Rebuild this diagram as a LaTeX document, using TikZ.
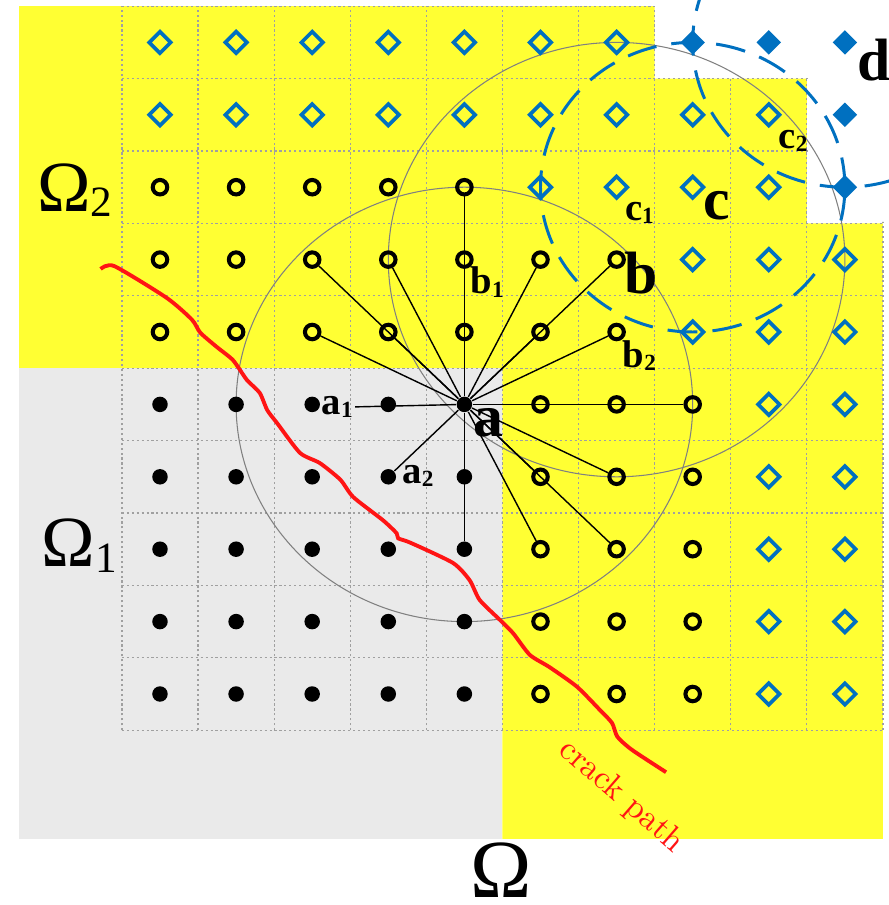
\documentclass[tikz,border=0pt]{standalone}
\usepackage{fontspec}
\usepackage{tikz}
\usetikzlibrary{calc,shapes.geometric}
\newfontfamily\tms{Liberation Serif}
\definecolor{domyellow}{RGB}{255,255,51}
\definecolor{domgray}{RGB}{234,234,234}
\definecolor{ptblue}{RGB}{0,112,192}
\definecolor{gridgray}{RGB}{160,160,160}
\definecolor{crackred}{RGB}{255,20,20}
\newcommand{\lsub}[1]{\raisebox{-0.08em}{\scalebox{0.6}{#1}}}

\begin{document}
\begin{tikzpicture}[
        x=0.761cm,
        y=0.724cm,
        dotpt/.style={
            circle,
            fill=black,
            inner sep=0pt,
            minimum size=0.155cm
        },
        ringpt/.style={
            circle,
            draw=black,
            line width=1.15pt,
            inner sep=0pt,
            minimum size=0.145cm
        },
        diapt/.style={
            diamond,
            draw=ptblue,
            line width=1.05pt,
            inner sep=0pt,
            minimum size=0.23cm
        },
        fdiapt/.style={
            diamond,
            fill=ptblue,
            inner sep=0pt,
            minimum size=0.25cm
        },
        gridln/.style={
            draw=gridgray,
            line width=0.35pt,
            dash pattern=on 0.6pt off 0.8pt
        },
        nbhd/.style={
            draw=black!50,
            line width=0.3pt
        },
        supp/.style={
            draw=ptblue,
            line width=0.85pt,
            dash pattern=on 8.5pt off 4.3pt
        },
        crack/.style={
            draw=crackred,
            line width=1.1pt
        },
        link/.style={
            draw=black,
            line width=0.4pt
        },
        lbl/.style={
            font=\tms\bfseries\fontsize{11pt}{12pt}\selectfont,
            inner sep=0.5pt
        },
        biglbl/.style={
            font=\tms\bfseries\fontsize{17pt}{18pt}\selectfont,
            inner sep=0.5pt
        },
        omlbl/.style={
            font=\tms\fontsize{20.5pt}{22pt}\selectfont,
            inner sep=0pt
        }
    ]

    \useasboundingbox (-1.6cm,-2.11cm) rectangle (7.29cm,6.94cm);

    % =========================
    % Domains
    % =========================
    \fill[domyellow] (-1.85,9.5) -- (6.5,9.5) -- (6.5,8.5) -- (8.5,8.5) -- (8.5,6.5)
        -- (9.5,6.5) -- (9.5,-2) -- (4.5,-2) -- (4.5,4.5) -- (-1.85,4.5) -- cycle;
    \fill[domgray] (-1.85,-2) rectangle (4.5,4.5);

    \begin{scope}
        \clip (-1.85,9.52) -- (6.52,9.52) -- (6.52,8.52) -- (8.52,8.52) -- (8.52,6.52)
            -- (9.52,6.52) -- (9.52,-2) -- (-1.85,-2) -- cycle;
        \foreach \k in {0,...,10} {
            \draw[gridln] ({\k-0.5},-0.5) -- ({\k-0.5},9.5);
            \draw[gridln] (-0.5,{\k-0.5}) -- (9.5,{\k-0.5});
        }
    \end{scope}

    % =========================
    % Supports
    % =========================
    \draw[nbhd] (4,4) circle [radius=3];
    \draw[nbhd] (6,6) circle [radius=3];

    \begin{scope}
        \clip (-1.6cm,-2.11cm) rectangle (7.29cm,6.94cm);
        \draw[supp] (7,7) circle [radius=2];
        \draw[supp] (9,9) circle [radius=2];
    \end{scope}

    % crack
    \draw[crack] plot[smooth, tension=0.4] coordinates {
        (-0.78,5.87) (-0.60,5.91) (0.09,5.47) (0.42,5.17) (0.53,4.99) (0.75,4.79)
        (0.96,4.61) (1.14,4.34) (1.31,4.16) (1.41,3.92) (1.54,3.74) (1.84,3.33)
        (2.10,3.19) (2.37,2.96) (2.54,2.72) (2.93,2.40) (3.11,2.22) (3.13,2.15)
        (3.29,2.09) (3.85,1.81) (4.07,1.57) (4.20,1.30) (4.47,1.02) (4.64,0.84)
        (4.86,0.54) (5.12,0.37) (5.48,0.10) (5.78,-0.22) (5.94,-0.40) (6.01,-0.59)
        (6.20,-0.77) (6.65,-1.08)};

    % =========================
    % Nodes
    % =========================
    \foreach \i in {0,...,4}
        \foreach \j in {0,...,4}
            \node[dotpt] (p-\i-\j) at (\i,\j) {};
    \foreach \i in {5,6,7}
        \foreach \j in {0,...,4}
            \node[ringpt] (p-\i-\j) at (\i,\j) {};
    \foreach \i in {0,...,6}
        \foreach \j in {5,6}
            \node[ringpt] (p-\i-\j) at (\i,\j) {};
    \foreach \i in {0,...,4}
        \node[ringpt] (p-\i-7) at (\i,7) {};

    \foreach \i in {8,9}
        \foreach \j in {0,...,4}
            \node[diapt] (p-\i-\j) at (\i,\j) {};
    \foreach \i in {7,8,9}
        \foreach \j in {5,6}
            \node[diapt] (p-\i-\j) at (\i,\j) {};
    \foreach \i in {5,...,8}
        \node[diapt] (p-\i-7) at (\i,7) {};
    \foreach \i in {0,...,8}
        \node[diapt] (p-\i-8) at (\i,8) {};
    \foreach \i in {0,...,6}
        \node[diapt] (p-\i-9) at (\i,9) {};
    \foreach \i/\j in {7/9,8/9,9/9,9/8,9/7}
        \node[fdiapt] (p-\i-\j) at (\i,\j) {};

    % labels
    \node[biglbl] (la) at ($(p-4-4)+(0.31,-0.26)$) {a};
    \node[biglbl] (lb) at ($(p-6-6)+(0.32,-0.19)$) {b};
    \node[biglbl] (lc) at ($(p-7-7)+(0.32,-0.26)$) {c};
    \node[biglbl] (ld) at ($(p-9-9)+(0.39,-0.25)$) {d};

    \node[lbl] (la1) at ($(p-2-4)+(0.33,-0.04)$) {a\lsub{1}};
    \node[lbl] (la2) at ($(p-3-3)+(0.39,0.01)$) {a\lsub{2}};
    \node[lbl] (lb1) at ($(p-4-6)+(0.30,-0.31)$) {b\lsub{1}};
    \node[lbl] (lb2) at ($(p-6-5)+(0.30,-0.32)$) {b\lsub{2}};
    \node[lbl] (lc1) at ($(p-6-7)+(0.30,-0.36)$) {c\lsub{1}};
    \node[lbl] (lc2) at ($(p-8-8)+(0.32,-0.36)$) {c\lsub{2}};

    % =========================
    % Links from a
    % =========================
    \draw[link] (p-4-4) -- (la1);
    \foreach \t in {3-3,4-2,4-7,2-6,3-6,5-6,6-6,2-5,3-5,5-5,6-5,7-4,5-3,6-3,6-2,5-2}
        \draw[link] (p-4-4) -- (p-\t);

    % =========================
    % Domain names
    % =========================
    \node[omlbl] (om2) at (-1.12,6.96) {Ω\lsub{2}};
    \node[omlbl] (om1) at (-1.06,2.05) {Ω\lsub{1}};
    \node[omlbl, font=\tms\fontsize{23.5pt}{25pt}\selectfont] (om) at (4.49,-2.44) {Ω};

    \node[text=crackred, font=\fontsize{9.5pt}{11pt}\selectfont, rotate=-41] (lcrack) at (6.06,-1.42) {crack path};

\end{tikzpicture}
\end{document}
